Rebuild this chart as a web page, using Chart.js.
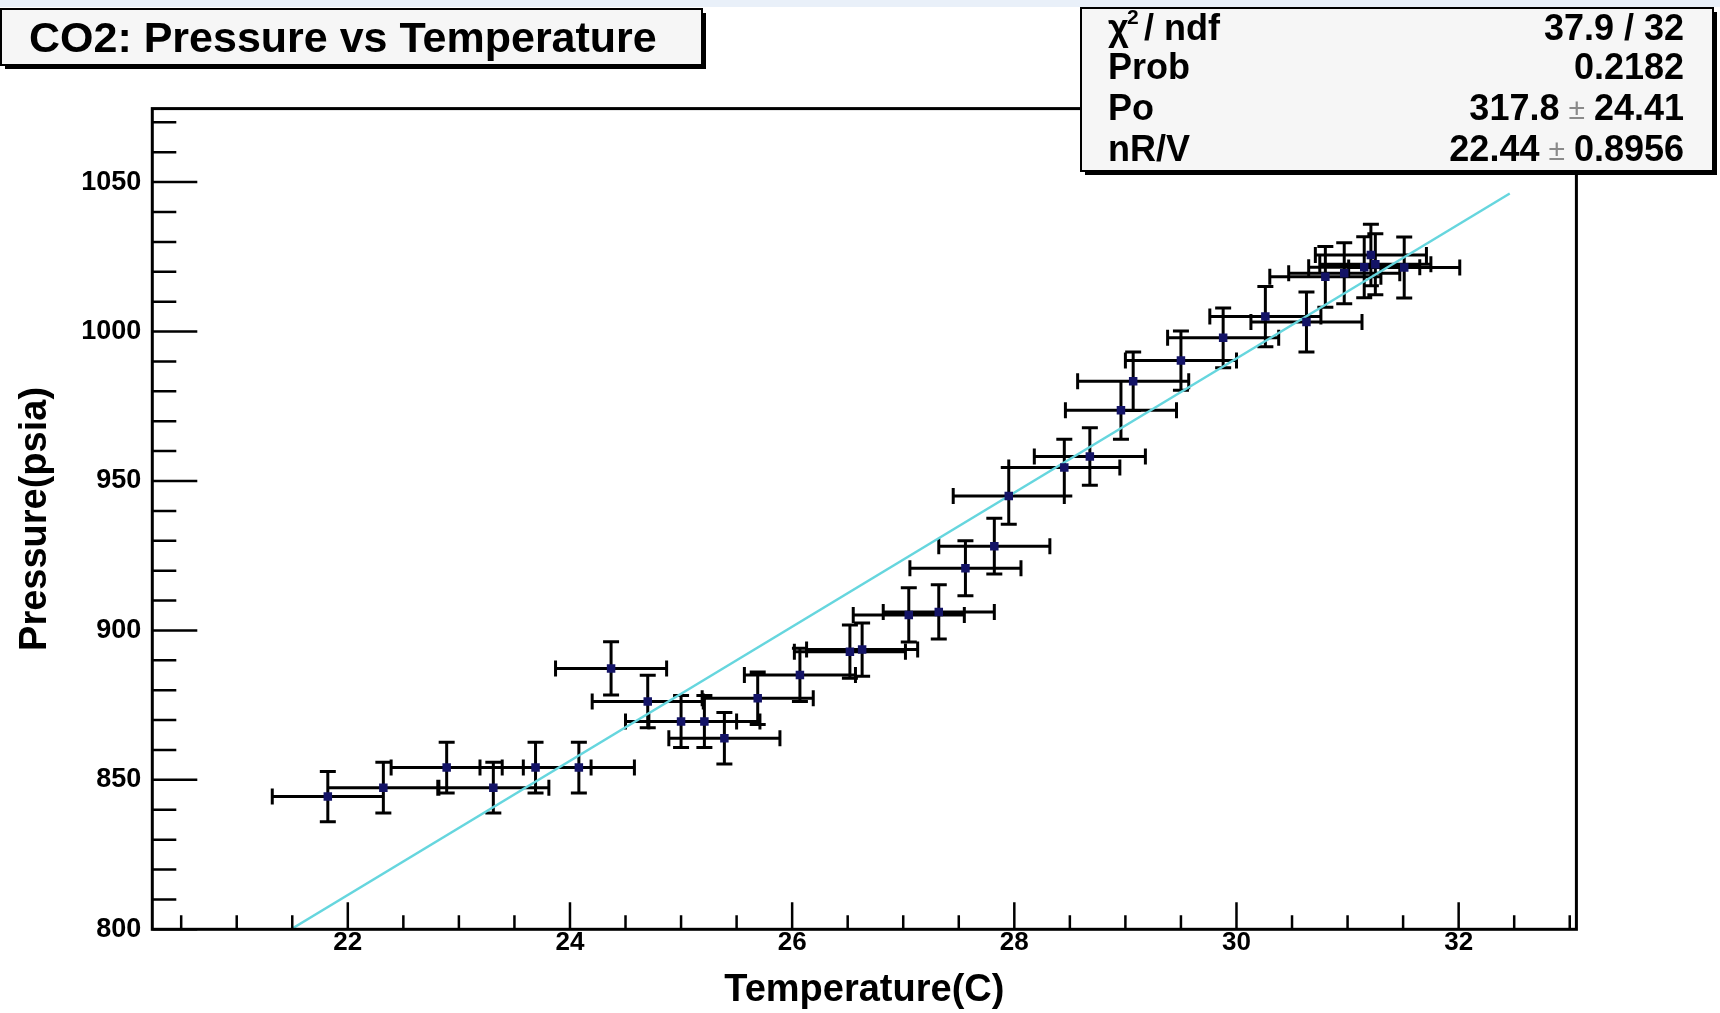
<!DOCTYPE html>
<html>
<head>
<meta charset="utf-8">
<title>CO2: Pressure vs Temperature</title>
<script src="https://cdn.jsdelivr.net/npm/chart.js@4.4.1/dist/chart.umd.min.js"></script>
<style>
  html, body { margin: 0; padding: 0; background: #fff; }
  #chart { display: block; }
</style>
</head>
<body>
<canvas id="chart" width="1720" height="1013"></canvas>
<script>
// points (temperature in C, pressure in psia)
const temperature = [21.82, 22.32, 22.89, 23.31, 23.69, 24.08, 24.37, 24.70, 25.00, 25.21,
  25.39, 25.69, 26.07, 26.52, 26.63, 27.05, 27.32, 27.56, 27.82, 27.95,
  28.45, 28.68, 28.96, 29.07, 29.50, 29.88, 30.26, 30.63, 30.80, 30.97,
  31.15, 31.21, 31.25, 31.51];
const pressure = [844.4, 847.4, 854.1, 847.4, 854.1, 854.1, 887.3, 876.2, 869.5, 869.5,
  863.9, 877.3, 885.1, 892.9, 893.6, 905.2, 906.2, 920.8, 928.2, 945.0,
  954.5, 958.2, 973.7, 983.4, 990.3, 997.9, 1005.0, 1003.2, 1018.3, 1019.5,
  1021.5, 1025.6, 1022.5, 1021.4];
const tempErr = [0.5, 0.5, 0.5, 0.5, 0.5, 0.5, 0.5, 0.5, 0.5, 0.5,
  0.5, 0.5, 0.5, 0.5, 0.5, 0.5, 0.5, 0.5, 0.5, 0.5,
  0.5, 0.5, 0.5, 0.5, 0.5, 0.5, 0.5, 0.5, 0.5, 0.5,
  0.5, 0.5, 0.5, 0.5];
const pressErr = [8.4, 8.5, 8.5, 8.5, 8.5, 8.5, 8.9, 8.8, 8.7, 8.7,
  8.6, 8.8, 8.9, 8.9, 8.9, 9.1, 9.1, 9.2, 9.3, 9.5,
  9.5, 9.6, 9.7, 9.8, 9.9, 10.0, 10.1, 10.0, 10.2, 10.2,
  10.2, 10.3, 10.2, 10.2];

// fitted line, end points as drawn
const fitT = [21.47, 32.46];
const fitP = [799.6, 1046.2];

// axis labels
const xTickLabels = [22, 24, 26, 28, 30, 32];
const yTickLabels = [800, 850, 900, 950, 1000, 1050];

// stats box
const statNames = ['/ ndf', 'Prob', 'Po', 'nR/V'];
const statValues = [['37.9 / 32'], ['0.2182'], ['317.8', '24.41'], ['22.44', '0.8956']];

const FONT = '"Liberation Sans", Arial, Helvetica, sans-serif';
const hasLabel = (list, v) => list.some(l => Math.abs(l - v) < 1e-6);

const errorBars = {
  id: 'errorBars',
  beforeDatasetsDraw(chart) {
    const {ctx, chartArea: a, scales: {x, y}} = chart;
    const cap = 8;
    ctx.save();
    ctx.beginPath();
    ctx.rect(a.left, a.top, a.right - a.left, a.bottom - a.top);
    ctx.clip();
    ctx.strokeStyle = '#000';
    ctx.lineWidth = 3;
    ctx.beginPath();
    temperature.forEach((t, i) => {
      const px = x.getPixelForValue(t);
      const py = y.getPixelForValue(pressure[i]);
      const xl = x.getPixelForValue(t - tempErr[i]);
      const xr = x.getPixelForValue(t + tempErr[i]);
      const yt = y.getPixelForValue(pressure[i] + pressErr[i]);
      const yb = y.getPixelForValue(pressure[i] - pressErr[i]);
      ctx.moveTo(xl, py); ctx.lineTo(xr, py);
      ctx.moveTo(px, yt); ctx.lineTo(px, yb);
      ctx.moveTo(xl, py - cap); ctx.lineTo(xl, py + cap);
      ctx.moveTo(xr, py - cap); ctx.lineTo(xr, py + cap);
      ctx.moveTo(px - cap, yt); ctx.lineTo(px + cap, yt);
      ctx.moveTo(px - cap, yb); ctx.lineTo(px + cap, yb);
    });
    ctx.stroke();
    ctx.restore();
  }
};

const frameAndTicks = {
  id: 'frameAndTicks',
  beforeDraw(chart) {
    const {ctx, width, height} = chart;
    ctx.save();
    ctx.fillStyle = '#fff';
    ctx.fillRect(0, 0, width, height);
    ctx.fillStyle = '#e9f0f9';
    ctx.fillRect(0, 0, width, 7);
    ctx.restore();
  },
  afterDatasetsDraw(chart) {
    const {ctx, chartArea: a, scales: {x, y}} = chart;
    ctx.save();
    ctx.strokeStyle = '#000';
    ctx.lineWidth = 2.5;
    ctx.beginPath();
    x.ticks.forEach(t => {
      const px = x.getPixelForValue(t.value);
      const len = hasLabel(xTickLabels, t.value) ? 27 : 14;
      ctx.moveTo(px, a.bottom); ctx.lineTo(px, a.bottom - len);
    });
    y.ticks.forEach(t => {
      const py = y.getPixelForValue(t.value);
      const len = hasLabel(yTickLabels, t.value) ? 45 : 24;
      ctx.moveTo(a.left, py); ctx.lineTo(a.left + len, py);
    });
    ctx.stroke();
    ctx.lineWidth = 3;
    ctx.strokeRect(a.left, a.top, a.right - a.left, a.bottom - a.top);
    ctx.restore();
  },
  afterDraw(chart) {
    const {ctx} = chart;
    const pave = (x0, y0, w, h) => {
      ctx.fillStyle = '#000';
      ctx.fillRect(x0 + 4, y0 + 4, w, h);
      ctx.fillStyle = '#f6f6f6';
      ctx.fillRect(x0, y0, w, h);
      ctx.strokeStyle = '#000';
      ctx.lineWidth = 2;
      ctx.strokeRect(x0, y0, w, h);
    };
    ctx.save();
    // title
    pave(1, 9, 701, 56);
    ctx.fillStyle = '#000';
    ctx.font = 'bold 43px ' + FONT;
    ctx.textAlign = 'left';
    ctx.textBaseline = 'alphabetic';
    ctx.fillText('CO2: Pressure vs Temperature', 29, 52);

    // stats
    pave(1081, 8, 632, 163);
    const rows = [40, 79, 120, 161];
    rows.forEach((base, i) => {
      ctx.fillStyle = '#000';
      ctx.font = 'bold 36px ' + FONT;
      ctx.textAlign = 'left';
      if (i === 0) {
        ctx.fillText('\u03c7', 1108, base);
        ctx.font = 'bold 21px ' + FONT;
        ctx.fillText('2', 1127, base - 16);
        ctx.font = 'bold 36px ' + FONT;
        ctx.fillText(statNames[0], 1144, base);
      } else {
        ctx.fillText(statNames[i], 1108, base);
      }
      ctx.textAlign = 'right';
      const v = statValues[i];
      let xr = 1684;
      if (v.length === 2) {
        ctx.fillText(v[1], xr, base);
        xr -= ctx.measureText(v[1]).width + 9;
        ctx.fillStyle = '#8a8a8a';
        ctx.font = '30px ' + FONT;
        ctx.fillText('\u00b1', xr, base - 1);
        xr -= ctx.measureText('\u00b1').width + 9;
        ctx.fillStyle = '#000';
        ctx.font = 'bold 36px ' + FONT;
      }
      ctx.fillText(v[0], xr, base);
    });
    ctx.restore();
  }
};

new Chart(document.getElementById('chart'), {
  type: 'scatter',
  data: {
    datasets: [
      {
        label: 'data',
        data: temperature.map((t, i) => ({x: t, y: pressure[i]})),
        pointStyle: 'rect',
        pointRadius: 6,
        backgroundColor: '#131366',
        borderColor: '#131366',
        borderWidth: 0,
        showLine: false
      },
      {
        label: 'fit',
        data: fitT.map((t, i) => ({x: t, y: fitP[i]})),
        showLine: true,
        pointRadius: 0,
        borderColor: '#66d6de',
        borderWidth: 2.5,
        fill: false
      }
    ]
  },
  options: {
    responsive: false,
    animation: false,
    devicePixelRatio: 1,
    layout: { padding: { top: 108.6, right: 143.6, left: 0, bottom: 0 } },
    plugins: { legend: { display: false }, tooltip: { enabled: false }, title: { display: false } },
    scales: {
      x: {
        type: 'linear',
        position: 'bottom',
        min: 20.24,
        max: 33.06,
        grid: { display: false, drawTicks: false },
        border: { display: false },
        ticks: {
          stepSize: 0.5,
          includeBounds: false,
          autoSkip: false,
          maxRotation: 0,
          padding: 1,
          color: '#000',
          font: { family: FONT, size: 26, weight: 'bold', lineHeight: 1 },
          callback: v => hasLabel(xTickLabels, v) ? String(Math.round(v)) : ''
        },
        title: {
          display: true,
          text: 'Temperature(C)',
          color: '#000',
          font: { family: FONT, size: 38, weight: 'bold' },
          padding: { top: 0, bottom: 0 }
        },
        afterFit: s => { s.height = 83.7; }
      },
      y: {
        type: 'linear',
        min: 800,
        max: 1074.6,
        grid: { display: false, drawTicks: false },
        border: { display: false },
        ticks: {
          stepSize: 10,
          includeBounds: false,
          autoSkip: false,
          padding: 11,
          color: '#000',
          font: { family: FONT, size: 27, weight: 'bold' },
          callback: v => hasLabel(yTickLabels, v) ? String(Math.round(v)) : ''
        },
        title: {
          display: true,
          text: 'Pressure(psia)',
          color: '#000',
          font: { family: FONT, size: 38, weight: 'bold' },
          padding: { top: 13, bottom: 0 }
        },
        afterFit: s => { s.width = 152.3; }
      }
    }
  },
  plugins: [errorBars, frameAndTicks]
});
</script>
</body>
</html>
